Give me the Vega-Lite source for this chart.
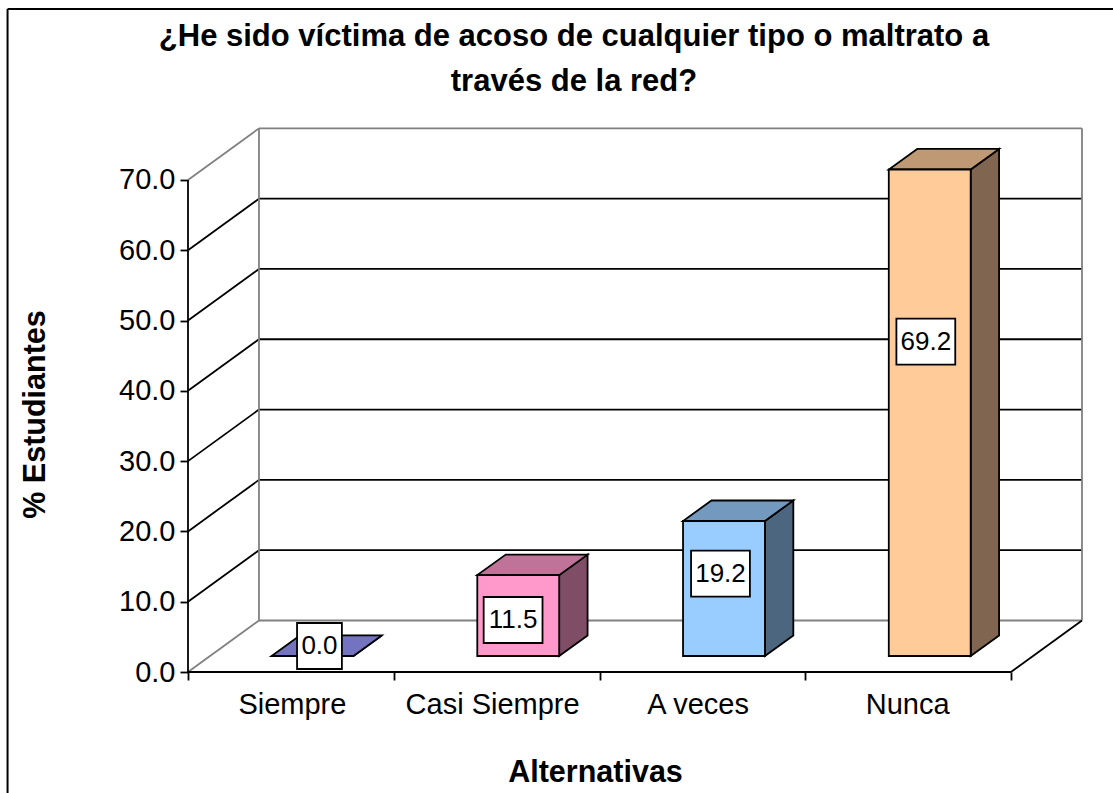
{
"$schema":"https://vega.github.io/schema/vega-lite/v6.json",
"width":1113,"height":793,"autosize":"none","padding":0,"background":"white",
"title":{"text":["¿He sido víctima de acoso de cualquier tipo o maltrato a","través de la red?"],"font":"Liberation Sans","fontSize":31,"fontWeight":"bold","color":"black","anchor":"middle","frame":"group","dx":17.5,"dy":122,"offset":0,"lineHeight":45,"baseline":"alphabetic"},
"config":{"view":{"stroke":null},"axis":{"labelFont":"Liberation Sans","titleFont":"Liberation Sans","labelColor":"black","titleColor":"black","tickColor":"black","labelFontSize":29,"titleFontSize":30.5,"titleFontWeight":"bold","tickSize":8,"tickWidth":1.8,"grid":false,"domain":false,"labelOverlap":false,"labelBound":false,"labelFlush":false}},
"datasets":{
"alternativas":[{"alternativa":"Siempre","porcentaje":0.0},{"alternativa":"Casi Siempre","porcentaje":11.5},{"alternativa":"A veces","porcentaje":19.2},{"alternativa":"Nunca","porcentaje":69.2}],
"niveles":[{"nivel":0},{"nivel":10},{"nivel":20},{"nivel":30},{"nivel":40},{"nivel":50},{"nivel":60},{"nivel":70}],
"bordes":[{"borde":0},{"borde":4}]
},
"encoding":{
"x":{"field":"xa","type":"quantitative","scale":{"domain":[-0.9137,4.4957],"range":[0,1113],"nice":false,"zero":false},
"axis":{"orient":"bottom","offset":-121,"title":"Alternativas","titleX":595,"titleY":85,"values":[0,0.505,1,1.478,2,2.477,3,3.495,4],"labelPadding":10,"labelBaseline":"top",
"labelExpr":"datum.value==0.505?'Siempre':datum.value==1.478?'Casi Siempre':datum.value==2.477?'A veces':datum.value==3.495?'Nunca':''",
"tickOpacity":{"condition":{"test":"datum.value==floor(datum.value)","value":1},"value":0}}},
"y":{"field":"ya","type":"quantitative","scale":{"domain":[-17.21,95.59],"range":[793,0],"nice":false,"zero":false},
"axis":{"orient":"left","offset":-188,"title":"% Estudiantes","titleX":-138,"titleY":414,"values":[0,10,20,30,40,50,60,70],"format":".1f","labelPadding":5}}
},
"layer":[
{"data":{"name":"niveles"},
 "transform":[{"calculate":"0","as":"xa"},{"calculate":"datum.nivel","as":"ya"},{"calculate":"0.345","as":"xb"},{"calculate":"datum.nivel+7.33","as":"yb"}],
 "mark":{"type":"rule","strokeWidth":1.8},
 "encoding":{"x2":{"field":"xb"},"y2":{"field":"yb"},"stroke":{"condition":{"test":"datum.nivel==0||datum.nivel==70","value":"#808080"},"value":"black"}}},
{"data":{"name":"niveles"},
 "transform":[{"calculate":"0.345","as":"xa"},{"calculate":"datum.nivel+7.33","as":"ya"},{"calculate":"4.345","as":"xb"}],
 "mark":{"type":"rule","strokeWidth":1.8},
 "encoding":{"x2":{"field":"xb"},"stroke":{"condition":{"test":"datum.nivel==0||datum.nivel==70","value":"#808080"},"value":"black"}}},
{"data":{"name":"bordes"},
 "transform":[{"calculate":"datum.borde+0.345","as":"xa"},{"calculate":"7.33","as":"ya"},{"calculate":"77.33","as":"yb"}],
 "mark":{"type":"rule","strokeWidth":1.8,"color":"#808080"},
 "encoding":{"y2":{"field":"yb"}}},
{"data":{"name":"bordes"},
 "transform":[{"filter":"datum.borde==4"},{"calculate":"4","as":"xa"},{"calculate":"0","as":"ya"},{"calculate":"4.345","as":"xb"},{"calculate":"7.33","as":"yb"}],
 "mark":{"type":"rule","strokeWidth":1.8,"color":"black"},
 "encoding":{"x2":{"field":"xb"},"y2":{"field":"yb"}}},
{"data":{"name":"bordes"},
 "transform":[{"filter":"datum.borde==0"},{"calculate":"0","as":"xa"},{"calculate":"0","as":"ya"},{"calculate":"4","as":"xb"}],
 "mark":{"type":"rule","strokeWidth":2,"color":"black"},
 "encoding":{"x2":{"field":"xb"}}},
{"data":{"name":"bordes"},
 "transform":[{"filter":"datum.borde==0"},{"calculate":"0","as":"xa"},{"calculate":"0","as":"ya"},{"calculate":"70","as":"yb"}],
 "mark":{"type":"rule","strokeWidth":1.8,"color":"black"},
 "encoding":{"y2":{"field":"yb"}}},
{"data":{"name":"bordes"},
 "transform":[{"filter":"datum.borde==0"},{"calculate":"-0.877","as":"xa"},{"calculate":"94.3","as":"ya"},{"calculate":"-17.21","as":"yb"}],
 "mark":{"type":"rule","strokeWidth":2,"color":"black"},
 "encoding":{"y2":{"field":"yb"}}},
{"data":{"name":"bordes"},
 "transform":[{"filter":"datum.borde==0"},{"calculate":"-0.877","as":"xa"},{"calculate":"94.3","as":"ya"},{"calculate":"4.4957","as":"xb"}],
 "mark":{"type":"rule","strokeWidth":2,"color":"black"},
 "encoding":{"x2":{"field":"xb"}}},
{"data":{"name":"alternativas"},
 "transform":[{"calculate":"indexof(['Siempre','Casi Siempre','A veces','Nunca'],datum.alternativa)","as":"orden"},{"calculate":"[0,1]","as":"t"},{"flatten":["t"]},
  {"calculate":"datum.orden+0.605+0.199+0.138*datum.t","as":"xa"},{"calculate":"2.28+2.92*datum.t","as":"ya"},{"calculate":"2.28+2.92*datum.t+datum.porcentaje","as":"yb"}],
 "mark":{"type":"area","stroke":"black","strokeWidth":1.8,"opacity":1},
 "encoding":{"y2":{"field":"yb"},"fill":{"field":"alternativa","type":"nominal","legend":null,"scale":{"domain":["Siempre","Casi Siempre","A veces","Nunca"],"range":["#4D4D80","#804D66","#4D6680","#806650"]}}}},
{"data":{"name":"alternativas"},
 "transform":[{"calculate":"indexof(['Siempre','Casi Siempre','A veces','Nunca'],datum.alternativa)","as":"orden"},{"calculate":"[0,1]","as":"t"},{"flatten":["t"]},
  {"calculate":"datum.orden+0.605-0.199+0.138*datum.t","as":"xa"},{"calculate":"datum.orden+0.605+0.199+0.138*datum.t","as":"xb"},{"calculate":"2.28+2.92*datum.t+datum.porcentaje","as":"ya"}],
 "mark":{"type":"area","orient":"horizontal","stroke":"black","strokeWidth":1.8,"opacity":1},
 "encoding":{"x2":{"field":"xb"},"fill":{"field":"alternativa","type":"nominal","legend":null,"scale":{"domain":["Siempre","Casi Siempre","A veces","Nunca"],"range":["#7373BF","#BF7399","#7399BF","#BF9973"]}}}},
{"data":{"name":"alternativas"},
 "transform":[{"calculate":"indexof(['Siempre','Casi Siempre','A veces','Nunca'],datum.alternativa)","as":"orden"},
  {"calculate":"datum.orden+0.605-0.199","as":"xa"},{"calculate":"datum.orden+0.605+0.199","as":"xb"},{"calculate":"2.28","as":"ya"},{"calculate":"2.28+datum.porcentaje","as":"yb"}],
 "mark":{"type":"rect","stroke":"black","strokeWidth":1.8},
 "encoding":{"x2":{"field":"xb"},"y2":{"field":"yb"},"fill":{"field":"alternativa","type":"nominal","legend":null,"scale":{"domain":["Siempre","Casi Siempre","A veces","Nunca"],"range":["#9999FF","#FF99CC","#99CCFF","#FFCC99"]}}}},
{"data":{"name":"alternativas"},
 "transform":[{"calculate":"indexof(['Siempre','Casi Siempre','A veces','Nunca'],datum.alternativa)","as":"orden"},
  {"calculate":"[0.639,1.58,2.588,3.586][datum.orden]","as":"cx"},{"calculate":"[3.7,7.4,14,47][datum.orden]","as":"cy"},{"calculate":"datum.porcentaje==0?0.109:0.143","as":"hw"},
  {"calculate":"datum.cx-datum.hw","as":"xa"},{"calculate":"datum.cx+datum.hw","as":"xb"},{"calculate":"datum.cy-3.27","as":"ya"},{"calculate":"datum.cy+3.27","as":"yb"}],
 "mark":{"type":"rect","fill":"white","stroke":"black","strokeWidth":1.8},
 "encoding":{"x2":{"field":"xb"},"y2":{"field":"yb"}}},
{"data":{"name":"alternativas"},
 "transform":[{"calculate":"indexof(['Siempre','Casi Siempre','A veces','Nunca'],datum.alternativa)","as":"orden"},
  {"calculate":"[0.639,1.58,2.588,3.586][datum.orden]","as":"xa"},{"calculate":"[3.7,7.4,14,47][datum.orden]","as":"ya"}],
 "mark":{"type":"text","font":"Liberation Sans","fontSize":26,"color":"black","align":"center","baseline":"middle"},
 "encoding":{"text":{"field":"porcentaje","type":"quantitative","format":".1f"}}}
],
"resolve":{"scale":{"fill":"independent"}}
}
